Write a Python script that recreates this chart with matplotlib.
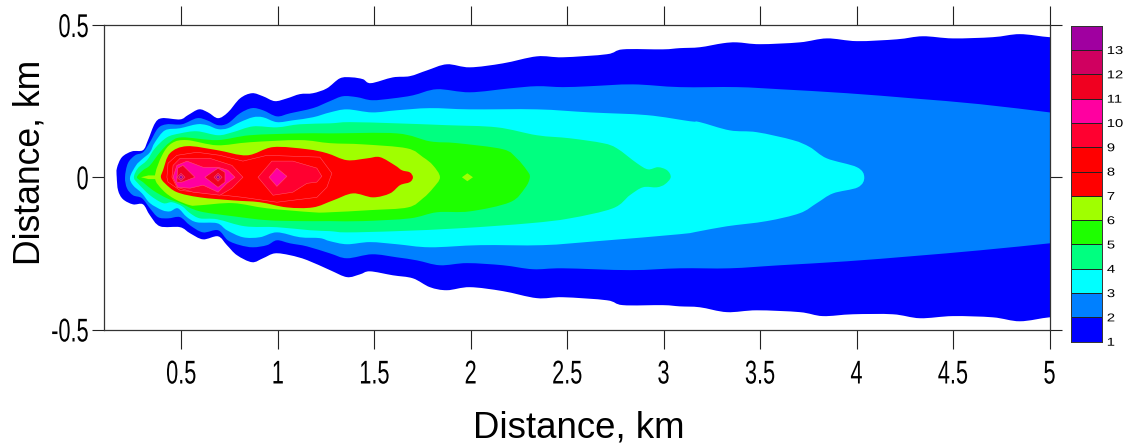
import matplotlib
matplotlib.use("Agg")
import matplotlib.pyplot as plt
import matplotlib.patheffects as pe
from matplotlib.patches import PathPatch, Polygon
from matplotlib.path import Path
from matplotlib.transforms import Affine2D

plt.rcParams['font.family'] = ['Liberation Sans', 'DejaVu Sans']

# Contour outlines in km, going round each closed level.
level1_x = [.166,.167,.193,.245,.302,.328,.364,.401,.494,.535,.592,.639,.691,.742,.805,.867,.924,.985,1.048,1.115,1.183,1.255,1.323,1.385,1.442,1.483,1.597,1.685,1.774,1.877,1.996,2.167,2.343,2.478,2.706,2.789,2.996,3.084,3.188,3.307,3.380,3.499,3.706,3.846,4.002,4.209,4.343,4.499,4.706,4.846,5.0,5.1,
            5.1,5.0,4.846,4.706,4.499,4.329,4.188,3.981,3.825,3.706,3.483,3.328,3.188,3.084,2.996,2.789,2.706,2.478,2.343,2.167,1.996,1.877,1.789,1.701,1.597,1.478,1.426,1.359,1.271,1.152,1.064,.985,.924,.867,.789,.737,.691,.613,.546,.494,.390,.338,.302,.250,.198,.173]
level1_y = [0,.030,.066,.085,.089,.122,.177,.194,.190,.204,.223,.213,.194,.213,.259,.276,.266,.250,.259,.273,.276,.292,.325,.328,.322,.309,.328,.332,.351,.371,.361,.374,.397,.394,.404,.420,.420,.424,.427,.440,.443,.437,.443,.456,.447,.453,.463,.456,.460,.470,.460,.460,
            -.460,-.460,-.473,-.460,-.456,-.463,-.450,-.450,-.456,-.443,-.437,-.443,-.427,-.424,-.420,-.420,-.404,-.394,-.397,-.374,-.361,-.371,-.361,-.332,-.322,-.309,-.319,-.328,-.305,-.272,-.256,-.250,-.266,-.279,-.256,-.223,-.194,-.204,-.184,-.164,-.161,-.125,-.089,-.089,-.072,-.043]

level2_x = [.209,.224,.261,.302,.338,.380,.426,.504,.582,.634,.691,.742,.805,.867,.924,.996,1.064,1.183,1.271,1.338,1.411,1.489,1.597,1.701,1.825,1.996,2.204,2.343,2.478,2.618,2.841,3.084,3.380,3.603,3.950,4.292,4.639,5.0,5.1,
            5.1,5.0,4.639,4.292,3.950,3.603,3.343,3.084,2.825,2.478,2.323,2.167,1.981,1.841,1.722,1.618,1.489,1.359,1.271,1.152,1.064,.996,.945,.872,.805,.742,.691,.613,.546,.494,.432,.380,.338,.297,.250,.219]
level2_y = [0,.046,.072,.082,.115,.161,.174,.174,.194,.187,.171,.177,.210,.227,.220,.200,.210,.227,.250,.266,.263,.253,.259,.269,.289,.279,.292,.299,.296,.299,.305,.296,.296,.289,.276,.259,.240,.213,.205,
            -.209,-.217,-.240,-.259,-.276,-.289,-.299,-.299,-.305,-.299,-.302,-.289,-.282,-.289,-.273,-.263,-.253,-.266,-.250,-.227,-.217,-.207,-.223,-.230,-.223,-.207,-.174,-.181,-.158,-.131,-.135,-.131,-.102,-.069,-.059,-.036]

level3_x = [.235,.266,.297,.338,.364,.416,.494,.582,.634,.691,.742,.805,.872,.924,.996,1.079,1.183,1.271,1.359,1.489,1.618,1.789,1.996,2.343,2.618,2.914,3.136,3.188,3.343,3.483,3.670,3.758,3.846,4.002,4.04,
            4.007,3.878,3.794,3.706,3.535,3.328,3.188,3.084,2.654,2.374,2.048,1.789,1.618,1.478,1.359,1.271,1.219,1.115,.996,.908,.820,.737,.686,.582,.530,.483,.442,.401,.338,.297,.250]
level3_y = [0,.039,.059,.082,.115,.154,.161,.174,.171,.158,.161,.181,.197,.197,.181,.187,.197,.213,.223,.213,.220,.227,.223,.223,.213,.204,.184,.181,.154,.148,.122,.099,.062,.033,0,
            -.033,-.053,-.085,-.118,-.144,-.161,-.177,-.187,-.210,-.223,-.223,-.230,-.220,-.213,-.220,-.210,-.200,-.197,-.181,-.197,-.197,-.174,-.151,-.148,-.131,-.102,-.112,-.108,-.085,-.053,-.026]

level4_x = [.255,.276,.323,.364,.426,.494,.582,.691,.768,.872,.996,1.115,1.271,1.375,1.618,1.877,2.136,2.343,2.514,2.685,2.758,2.862,2.919,2.971,3.018,3.037,
            3.007,2.965,2.893,2.825,2.737,2.514,2.307,1.960,1.618,1.359,1.271,1.167,.996,.830,.686,.597,.546,.504,.452,.406,.338,.276]
level4_y = [0,.030,.056,.095,.131,.144,.151,.138,.148,.167,.164,.174,.177,.181,.177,.171,.164,.138,.128,.112,.095,.046,.026,.033,.023,0,
            -.023,-.033,-.033,-.059,-.102,-.135,-.151,-.167,-.177,-.181,-.177,-.174,-.164,-.161,-.138,-.135,-.118,-.095,-.082,-.085,-.059,-.020]

level5_x = [.271,.302,.338,.390,.442,.504,.686,.857,1.115,1.271,1.618,1.789,1.929,2.167,2.239,2.291,2.307,
            2.281,2.204,1.996,1.825,1.685,1.442,1.271,1.115,.945,.768,.597,.494,.426,.354,.302]
level5_y = [0,.023,.039,.082,.115,.131,.122,.138,.144,.144,.144,.118,.112,.092,.062,.023,0,
            -.036,-.082,-.112,-.115,-.135,-.144,-.144,-.144,-.141,-.128,-.112,-.085,-.069,-.043,-.016]

level6_x = [.364,.401,.452,.530,.686,.857,1.115,1.271,1.442,1.670,1.753,1.805,1.841,
            1.805,1.753,1.675,1.478,1.271,1.183,.945,.768,.597,.546,.468,.406]
level6_y = [0,.072,.112,.122,.105,.115,.122,.112,.108,.095,.066,.039,0,
            -.036,-.069,-.099,-.108,-.115,-.115,-.102,-.085,-.092,-.092,-.072,-.043]
spike6_x = [.292,.33,.37,.37,.33]
spike6_y = [0,.006,.006,-.006,-.006]
spot6_x = [1.955,1.983,2.012,1.983]
spot6_y = [0,.013,0,-.013]

level7_x = [.395,.406,.442,.530,.686,.841,.976,1.152,1.255,1.359,1.463,1.530,1.608,1.644,1.685,1.701,
            1.685,1.634,1.582,1.494,1.390,1.287,1.183,1.048,.908,.768,.597,.478,.416]
level7_y = [0,.023,.079,.102,.089,.072,.099,.092,.079,.056,.062,.066,.039,.023,.016,0,
            -.016,-.026,-.053,-.066,-.053,-.076,-.099,-.099,-.082,-.076,-.066,-.049,-.020]

level8_x = [.426,.432,.478,.582,.701,.820,.945,1.219,1.281,1.255,1.203,.996,.820,.494,.432]
level8_y = [0,.046,.072,.082,.072,.053,.072,.066,.013,-.033,-.066,-.082,-.066,-.043,-.016]

level9a_x = [.452,.458,.494,.649,.763,.820,.763,.701,.561,.478]
level9a_y = [0,.039,.062,.062,.039,0,-.036,-.059,-.049,-.033]
level9b_x = [.898,.970,1.079,1.203,1.229,1.203,1.152,1.079,.976]
level9b_y = [0,.053,.053,.030,.003,-.016,-.020,-.049,-.059]

level10a_x = [.458,.478,.530,.613,.691,.742,.779,.737,.691,.613,.546,.483]
level10a_y = [0,.039,.053,.033,.033,.023,0,-.020,-.049,-.026,-.036,-.033]
level10b_x = [.955,.996,1.048,.996]
level10b_y = [0,.030,.003,-.030]

level11a_x = [.478,.483,.509,.571,.504,.478]
level11a_y = [0,.030,.039,0,-.016,-.016]
level11b_x = [.623,.691,.727,.727,.691]
level11b_y = [0,.030,.016,-.016,-.033]

level12a_x = [.478,.499,.520,.499]
level12a_y = [0,.013,0,-.013]
level12b_x = [.670,.691,.712,.691]
level12b_y = [0,.013,0,-.013]

level13a_x = [.489,.499,.509,.499]
level13a_y = [0,.007,0,-.007]
level13b_x = [.681,.691,.701,.691]
level13b_y = [0,.007,0,-.007]

legend_levels = list(range(1, 14))
legend_colors = ['#0000ff','#0080ff','#00ffff','#00ff80','#1eff00','#a0ff00','#ff0000',
                 '#ff0000','#ff0030','#ff00a0','#f00020','#d00060','#a000a0']
x_ticks = [0.5,1,1.5,2,2.5,3,3.5,4,4.5,5]
x_tick_labels = ['0.5','1','1.5','2','2.5','3','3.5','4','4.5','5']
y_ticks = [-0.5,0,0.5]
y_tick_labels = ['-0.5','0','0.5']
axis_label = 'Distance, km'


class Squeeze(pe.AbstractPathEffect):
    """Draw glyphs narrower or wider than the font, keeping them as real text."""
    def __init__(self, sx, pivot='center'):
        super().__init__()
        self.sx, self.pivot = sx, pivot

    def draw_path(self, renderer, gc, tpath, affine, rgbFace=None):
        ext = tpath.get_extents()
        p = {'center': (ext.x0 + ext.x1) / 2, 'right': ext.x1, 'left': ext.x0}[self.pivot]
        squeeze = Affine2D().translate(-p, 0).scale(self.sx, 1).translate(p, 0)
        renderer.draw_path(gc, tpath, squeeze + affine, rgbFace)


W, H = 1132, 448
fig = plt.figure(figsize=(W / 100, H / 100), dpi=100)
ax = fig.add_axes([104 / W, 1 - 329.5 / H, 945.5 / W, 304.5 / H])
ax.set_xlim(0.1, 5)
ax.set_ylim(-0.5, 0.5)


def smooth(xs, ys, color, z):
    # closed curve through every read point
    pts = list(zip(xs, ys))
    n = len(pts)
    verts = [pts[0]]
    codes = [Path.MOVETO]
    for i in range(n):
        p0, p1, p2, p3 = pts[i - 1], pts[i], pts[(i + 1) % n], pts[(i + 2) % n]
        c1 = (p1[0] + (p2[0] - p0[0]) / 6, p1[1] + (p2[1] - p0[1]) / 6)
        c2 = (p2[0] - (p3[0] - p1[0]) / 6, p2[1] - (p3[1] - p1[1]) / 6)
        verts += [c1, c2, p2]
        codes += [Path.CURVE4] * 3
    ax.add_patch(PathPatch(Path(verts, codes), facecolor=color, edgecolor='none', zorder=z))


def poly(xs, ys, color, z, edge='#ff5a70'):
    ax.add_patch(Polygon(list(zip(xs, ys)), closed=True, facecolor=color,
                         edgecolor=edge, linewidth=0.35, zorder=z))


smooth(level1_x, level1_y, legend_colors[0], 1)
smooth(level2_x, level2_y, legend_colors[1], 2)
smooth(level3_x, level3_y, legend_colors[2], 3)
smooth(level4_x, level4_y, legend_colors[3], 4)
smooth(level5_x, level5_y, legend_colors[4], 5)
smooth(level6_x, level6_y, legend_colors[5], 6)
poly(spike6_x, spike6_y, legend_colors[5], 6, edge='none')
poly(spot6_x, spot6_y, legend_colors[5], 6, edge='none')
smooth(level7_x, level7_y, legend_colors[6], 7)
poly(level8_x, level8_y, legend_colors[7], 8)
poly(level9a_x, level9a_y, legend_colors[8], 9)
poly(level9b_x, level9b_y, legend_colors[8], 9)
poly(level10a_x, level10a_y, legend_colors[9], 10)
poly(level10b_x, level10b_y, legend_colors[9], 10)
poly(level11a_x, level11a_y, legend_colors[10], 11)
poly(level11b_x, level11b_y, legend_colors[10], 11)
poly(level12a_x, level12a_y, legend_colors[11], 12)
poly(level12b_x, level12b_y, legend_colors[11], 12)
poly(level13a_x, level13a_y, legend_colors[12], 13)
poly(level13b_x, level13b_y, legend_colors[12], 13)

px = 0.72
ax.set_xticks(x_ticks, x_tick_labels)
ax.set_yticks(y_ticks, y_tick_labels)
ax.tick_params(axis='x', which='both', top=True, bottom=True, length=19 * px, width=0.8,
               pad=11 * px, labelsize=23.7, color='#222222')
ax.tick_params(axis='y', which='both', left=True, right=True, length=12 * px, width=0.8,
               pad=3 * px, labelsize=23.7, color='#222222')
for lab in ax.get_xticklabels():
    lab.set_path_effects([Squeeze(0.66)])
for lab in ax.get_yticklabels():
    lab.set_path_effects([Squeeze(0.66, 'right')])
for s in ax.spines.values():
    s.set_linewidth(0.9)
    s.set_color('#333333')
    s.set_zorder(30)

fig.text(579 / W, 1 - 428 / H, axis_label, fontsize=26.4, ha='center', va='center')
fig.text(30 / W, 1 - 162 / H, axis_label, fontsize=25.6, rotation=90, ha='center', va='center')

# legend bar: one box per level, labelled at its lower edge
cax = fig.add_axes([1071 / W, 1 - 341.7 / H, 31 / W, 316 / H])
cax.set_xlim(0, 1)
cax.set_ylim(1, 14)
cax.barh(legend_levels, [1] * len(legend_levels), height=1, align='edge',
         color=legend_colors, edgecolor='#222222', linewidth=0.7)
cax.set_xticks([])
cax.set_yticks(legend_levels, [str(v) for v in legend_levels])
cax.yaxis.tick_right()
cax.tick_params(axis='y', length=0, pad=5 * px, labelsize=8.2)
for lab in cax.get_yticklabels():
    lab.set_path_effects([Squeeze(1.3, 'left')])
for s in cax.spines.values():
    s.set_linewidth(0.7)
    s.set_color('#333333')

fig.savefig('out.png', dpi=100)
